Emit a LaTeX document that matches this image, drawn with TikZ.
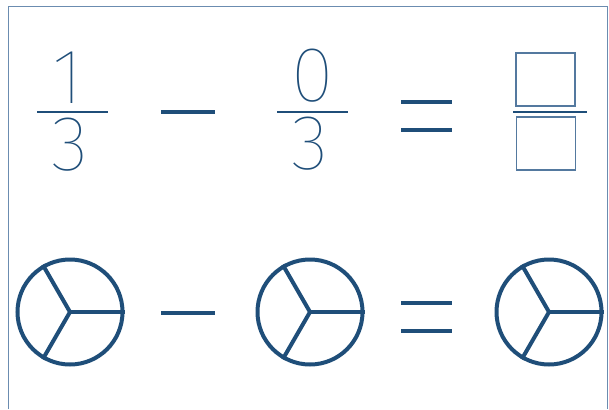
\documentclass[tikz,border=0pt]{standalone}
\usepackage{fontspec}
\newfontfamily\digitfont{Fira Sans Thin}
\usepackage{xcolor}
\usetikzlibrary{positioning}
\definecolor{inkblue}{HTML}{1F4E79}
\definecolor{frameblue}{HTML}{6B8CB0}
\tikzset{
  digit/.style={text=inkblue, font=\digitfont\fontsize{78}{78}\selectfont, inner sep=0pt, text height=52pt, text depth=0pt},
  bar/.style={draw=inkblue, line width=2.5pt},
  opline/.style={draw=inkblue, line width=3.5pt},
  blank/.style={draw=frameblue!70!inkblue, line width=1.2pt, minimum width=59pt, minimum height=53pt, inner sep=0pt},
  pie/.style={circle, draw=inkblue, line width=4pt, minimum size=105pt, inner sep=0pt},
}
\begin{document}
\begin{tikzpicture}[x=1pt,y=-1pt]
        \useasboundingbox (0,0) rectangle (609,409);
        \draw[frameblue, line width=1.5pt] (8.5,409) -- (8.5,6.5) -- (607.5,6.5) -- (607.5,409);
        % top row
        \node[digit] (n1) at (68,77) {1};
        \node[digit] (d1) at (70,144) {3};
        \coordinate (b1l) at (37,112);
        \coordinate (b1r) at (108,112);
        \draw[bar] (b1l) -- (b1r);
        \coordinate (m1l) at (161,112);
        \coordinate (m1r) at (215,112);
        \draw[opline] (m1l) -- (m1r);
        \node[digit] (n2) at (312.5,76) {0};
        \node[digit] (d2) at (310,143) {3};
        \coordinate (b2l) at (277,112);
        \coordinate (b2r) at (348,112);
        \draw[bar] (b2l) -- (b2r);
        \coordinate (e1l) at (401,102);
        \coordinate (e1r) at (452,102);
        \coordinate (e2l) at (401,130);
        \coordinate (e2r) at (452,130);
        \draw[opline] (e1l) -- (e1r) (e2l) -- (e2r);
        \node[blank] (n3) at (545.5,79.5) {};
        \node[blank] (d3) at (546,143.5) {};
        \coordinate (b3l) at (513,112);
        \coordinate (b3r) at (587,112);
        \draw[bar] (b3l) -- (b3r);
        % bottom row
        \node[pie] (p1) at (70,312) {};
        \node[pie] (p2) at (310,312) {};
        \node[pie] (p3) at (549,312) {};
        \foreach \p in {p1,p2,p3}
            \foreach \a in {0,120,240}
                \draw[inkblue, line width=4pt] (\p.center) -- (\p.\a);
        \coordinate (m2l) at (161,313);
        \coordinate (m2r) at (215,313);
        \draw[opline] (m2l) -- (m2r);
        \coordinate (e3l) at (401,303);
        \coordinate (e3r) at (452,303);
        \coordinate (e4l) at (401,331);
        \coordinate (e4r) at (452,331);
        \draw[opline] (e3l) -- (e3r) (e4l) -- (e4r);
\end{tikzpicture}
\end{document}
